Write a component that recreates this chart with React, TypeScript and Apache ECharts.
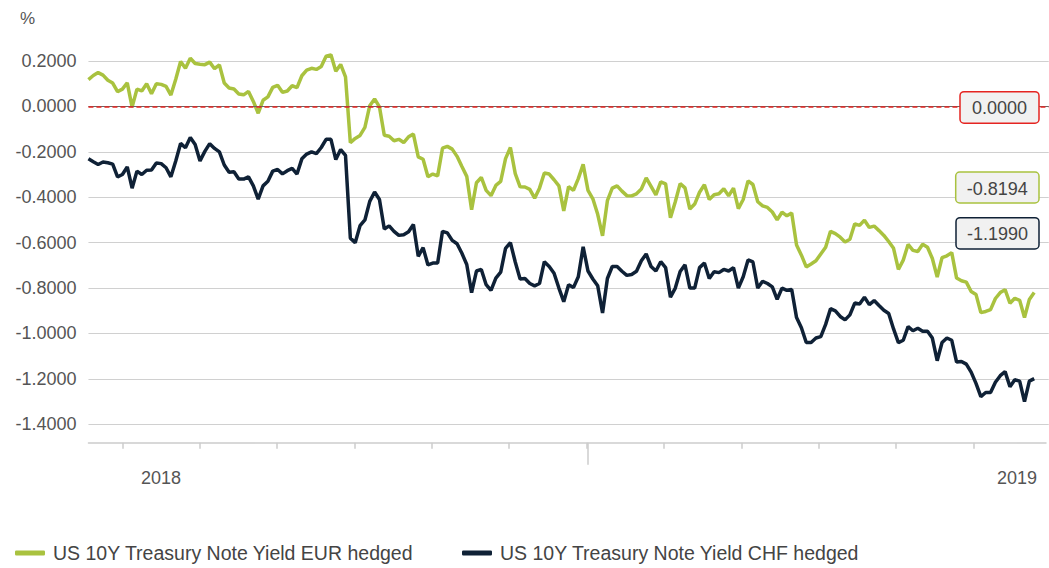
import React, { useEffect, useRef } from 'react';
import * as echarts from 'echarts';

const seriesNames = ['US 10Y Treasury Note Yield EUR hedged', 'US 10Y Treasury Note Yield CHF hedged'];

const eurHedged = [
  0.118, 0.136, 0.149, 0.138, 0.115, 0.103, 0.065, 0.076, 0.104, -0.003,
  0.076, 0.068, 0.100, 0.056, 0.100, 0.097, 0.088, 0.050, 0.120, 0.198,
  0.168, 0.212, 0.189, 0.186, 0.184, 0.195, 0.166, 0.183, 0.103, 0.081,
  0.077, 0.055, 0.051, 0.066, 0.022, -0.030, 0.027, 0.042, 0.084, 0.093,
  0.062, 0.068, 0.091, 0.083, 0.135, 0.160, 0.168, 0.163, 0.176, 0.221,
  0.227, 0.155, 0.185, 0.130, -0.160, -0.141, -0.128, -0.092, 0.003, 0.033,
  -0.002, -0.127, -0.131, -0.151, -0.145, -0.159, -0.134, -0.122, -0.222, -0.233,
  -0.310, -0.298, -0.306, -0.184, -0.176, -0.188, -0.220, -0.265, -0.308, -0.455,
  -0.336, -0.313, -0.370, -0.393, -0.348, -0.330, -0.230, -0.181, -0.296, -0.354,
  -0.355, -0.365, -0.404, -0.360, -0.293, -0.298, -0.323, -0.350, -0.460, -0.353,
  -0.370, -0.318, -0.255, -0.370, -0.407, -0.475, -0.570, -0.415, -0.360, -0.350,
  -0.373, -0.393, -0.394, -0.385, -0.364, -0.315, -0.352, -0.390, -0.332, -0.341,
  -0.490, -0.420, -0.340, -0.359, -0.452, -0.430, -0.378, -0.345, -0.410, -0.389,
  -0.385, -0.363, -0.394, -0.360, -0.450, -0.410, -0.328, -0.344, -0.420, -0.438,
  -0.445, -0.465, -0.500, -0.466, -0.482, -0.469, -0.610, -0.655, -0.707, -0.694,
  -0.680, -0.650, -0.620, -0.550, -0.560, -0.576, -0.597, -0.585, -0.517, -0.524,
  -0.501, -0.533, -0.527, -0.547, -0.568, -0.595, -0.625, -0.718, -0.677, -0.608,
  -0.634, -0.639, -0.607, -0.620, -0.670, -0.752, -0.666, -0.658, -0.644, -0.756,
  -0.768, -0.774, -0.815, -0.828, -0.908, -0.903, -0.895, -0.846, -0.820, -0.807,
  -0.867, -0.845, -0.854, -0.930, -0.850, -0.8194,
];

const chfHedged = [
  -0.231, -0.244, -0.256, -0.245, -0.248, -0.254, -0.310, -0.300, -0.266, -0.360,
  -0.285, -0.300, -0.281, -0.280, -0.249, -0.252, -0.270, -0.310, -0.240, -0.163,
  -0.182, -0.137, -0.168, -0.240, -0.198, -0.164, -0.185, -0.200, -0.258, -0.290,
  -0.288, -0.320, -0.320, -0.310, -0.350, -0.408, -0.350, -0.330, -0.285, -0.278,
  -0.297, -0.283, -0.273, -0.298, -0.231, -0.210, -0.200, -0.208, -0.181, -0.145,
  -0.145, -0.234, -0.190, -0.216, -0.580, -0.600, -0.525, -0.500, -0.418, -0.377,
  -0.410, -0.540, -0.526, -0.550, -0.568, -0.565, -0.552, -0.520, -0.660, -0.622,
  -0.698, -0.690, -0.690, -0.550, -0.557, -0.590, -0.605, -0.647, -0.696, -0.820,
  -0.725, -0.718, -0.785, -0.810, -0.756, -0.730, -0.625, -0.600, -0.685, -0.760,
  -0.758, -0.780, -0.790, -0.780, -0.684, -0.705, -0.735, -0.800, -0.860, -0.785,
  -0.798, -0.750, -0.618, -0.725, -0.760, -0.790, -0.910, -0.758, -0.705, -0.705,
  -0.726, -0.744, -0.740, -0.726, -0.680, -0.650, -0.705, -0.725, -0.684, -0.710,
  -0.840, -0.800, -0.727, -0.698, -0.800, -0.800, -0.710, -0.690, -0.758, -0.728,
  -0.732, -0.718, -0.725, -0.710, -0.800, -0.750, -0.676, -0.685, -0.800, -0.770,
  -0.780, -0.795, -0.850, -0.800, -0.810, -0.806, -0.930, -0.975, -1.040, -1.040,
  -1.020, -1.014, -0.960, -0.891, -0.900, -0.925, -0.940, -0.918, -0.866, -0.870,
  -0.840, -0.873, -0.855, -0.877, -0.898, -0.912, -0.980, -1.040, -1.030, -0.970,
  -0.988, -0.977, -0.990, -0.990, -1.020, -1.120, -1.040, -1.020, -1.030, -1.126,
  -1.123, -1.135, -1.170, -1.220, -1.278, -1.260, -1.260, -1.215, -1.186, -1.168,
  -1.235, -1.204, -1.210, -1.300, -1.210, -1.199,
];

// trading-day slots along the x axis (the axis runs a little past the last value)
const dayCount = 199;
const days = Array.from({ length: dayCount }, (_, i) => `T${i}`);
const monthTickIdx = [7, 23, 39, 55, 71, 87, 103, 119, 135, 151, 167, 183];
const halfYearTickIdx = [103];
const yearLabels = ['2018', '2019'];
const yearLabelIdx = [15, 192];

const yMin = -1.4;
const yMax = 0.2;
const yStep = 0.2;
const refLevel = 0;

const GREEN = '#a9c23f';
const NAVY = '#0f2136';
const RED = '#e52421';
const FONT = '"Liberation Sans", Arial, Helvetica, sans-serif';

const PLOT_LEFT = 88.45;
const PLOT_RIGHT = 0.25;

export default function App() {
  const ref = useRef<HTMLDivElement>(null);

  useEffect(() => {
    if (!ref.current) return;
    const chart = echarts.init(ref.current, undefined, { renderer: 'svg' });

    const boxText = (x: number, y: number, w: number, h: number, stroke: string, text: string) => [
      {
        type: 'rect',
        shape: { x, y, width: w, height: h, r: 4 },
        style: { fill: '#f1f1f1', stroke, lineWidth: 1.5 },
        z: 100,
      },
      {
        type: 'text',
        x: x + w / 2,
        y: y + h / 2 + 1,
        style: {
          text,
          fill: '#444',
          fontSize: 18,
          fontFamily: FONT,
          align: 'center',
          verticalAlign: 'middle',
          textAlign: 'center',
          textVerticalAlign: 'middle',
        },
        z: 101,
      },
    ];

    const hiddenY = (gridIndex: number) => ({
      type: 'value',
      gridIndex,
      min: 0,
      max: 1,
      show: false,
      axisLine: { show: false },
      axisTick: { show: false },
      axisLabel: { show: false },
      splitLine: { show: false },
    });

    const yearLabelFor = (value: string) => {
      const k = yearLabelIdx.indexOf(days.indexOf(value));
      return k >= 0 ? yearLabels[k] : '';
    };

    chart.setOption({
      animation: false,
      grid: [
        { left: PLOT_LEFT, right: PLOT_RIGHT, top: 61, bottom: 143.7, containLabel: false },
        { left: PLOT_LEFT, right: PLOT_RIGHT, top: 441.7, height: 1, containLabel: false },
        { left: PLOT_LEFT, right: PLOT_RIGHT, top: 441.7, height: 1, containLabel: false },
      ],
      xAxis: [
        {
          type: 'category',
          gridIndex: 0,
          data: days,
          boundaryGap: false,
          axisLine: { show: false },
          axisTick: { show: false },
          axisLabel: { show: false },
          splitLine: { show: false },
        },
        {
          type: 'category',
          gridIndex: 1,
          position: 'bottom',
          data: days,
          boundaryGap: false,
          axisLine: { show: true, onZero: false, lineStyle: { color: '#cccccc', width: 1.5 } },
          axisTick: {
            show: true,
            length: 6,
            interval: (i: number) => monthTickIdx.includes(i),
            lineStyle: { color: '#cccccc', width: 1.5 },
          },
          axisLabel: {
            show: true,
            interval: 0,
            hideOverlap: false,
            formatter: (v: string) => yearLabelFor(v),
            margin: 26,
            color: '#555',
            fontSize: 18,
            fontFamily: FONT,
          },
          splitLine: { show: false },
        },
        {
          type: 'category',
          gridIndex: 2,
          position: 'bottom',
          data: days,
          boundaryGap: false,
          axisLine: { show: false, onZero: false },
          axisTick: {
            show: true,
            length: 22,
            interval: (i: number) => halfYearTickIdx.includes(i),
            lineStyle: { color: '#cccccc', width: 1.5 },
          },
          axisLabel: { show: false },
          splitLine: { show: false },
        },
      ],
      yAxis: [
        {
          type: 'value',
          gridIndex: 0,
          min: yMin,
          max: yMax,
          interval: yStep,
          axisLine: { show: false },
          axisTick: { show: false },
          axisLabel: {
            formatter: (v: number) => (Math.abs(v) < 1e-9 ? 0 : v).toFixed(4),
            color: '#555',
            fontSize: 18,
            fontFamily: FONT,
            margin: 12,
          },
          splitLine: { show: true, lineStyle: { color: '#d0d0d0', width: 1.2 } },
        },
        hiddenY(1),
        hiddenY(2),
      ],
      legend: [
        {
          data: [seriesNames[0]],
          left: 10,
          top: 538,
          icon: 'roundRect',
          itemWidth: 30,
          itemHeight: 5,
          selectedMode: false,
          textStyle: { color: '#444', fontSize: 19.5, fontFamily: FONT, padding: [0, 0, 0, 3] },
        },
        {
          data: [seriesNames[1]],
          left: 457,
          top: 538,
          icon: 'roundRect',
          itemWidth: 30,
          itemHeight: 5,
          selectedMode: false,
          textStyle: { color: '#444', fontSize: 19.5, fontFamily: FONT, padding: [0, 0, 0, 3] },
        },
      ],
      graphic: [
        {
          type: 'text',
          x: 20,
          y: 18,
          style: {
            text: '%',
            fill: '#555',
            fontSize: 17,
            fontFamily: FONT,
            verticalAlign: 'middle',
            textVerticalAlign: 'middle',
          },
        },
        ...boxText(960, 91.7, 79, 31.5, RED, refLevel.toFixed(4)),
        ...boxText(955.7, 172, 83.3, 31, GREEN, eurHedged[eurHedged.length - 1].toFixed(4)),
        ...boxText(956, 217.7, 83, 31.3, NAVY, chfHedged[chfHedged.length - 1].toFixed(4)),
      ],
      series: [
        {
          name: seriesNames[0],
          type: 'line',
          data: eurHedged,
          xAxisIndex: 0,
          yAxisIndex: 0,
          symbol: 'none',
          showSymbol: false,
          clip: false,
          color: GREEN,
          lineStyle: { color: GREEN, width: 3.5 },
          z: 3,
          markLine: {
            silent: true,
            symbol: 'none',
            label: { show: false },
            animation: false,
            z: 4,
            data: [
              { yAxis: refLevel, lineStyle: { color: '#666', type: 'solid', width: 1 } },
              { yAxis: refLevel, lineStyle: { color: RED, type: [5, 3], width: 1.6 } },
            ],
          },
        },
        {
          name: seriesNames[1],
          type: 'line',
          data: chfHedged,
          xAxisIndex: 0,
          yAxisIndex: 0,
          symbol: 'none',
          showSymbol: false,
          clip: false,
          color: NAVY,
          lineStyle: { color: NAVY, width: 3.5 },
          z: 3,
        },
      ],
    });

    return () => chart.dispose();
  }, []);

  return (
    <div
      ref={ref}
      style={{ position: 'fixed', left: 0, top: 0, width: 1049, height: 568, background: '#fff' }}
    />
  );
}
